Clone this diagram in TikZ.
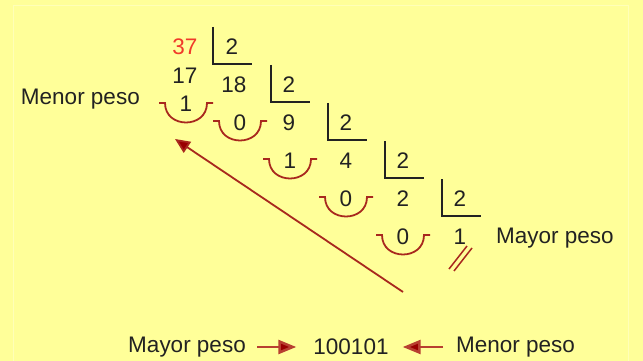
\documentclass[tikz,border=0pt]{standalone}
\usepackage{fontspec}
\setmainfont{Liberation Sans}
\usetikzlibrary{arrows.meta}
\definecolor{bg}{HTML}{FFFF99}
\definecolor{bgline}{HTML}{FFFFB8}
\definecolor{txt}{HTML}{222222}
\definecolor{cupred}{HTML}{A8281E}
\definecolor{numred}{HTML}{F03A2A}
\definecolor{arrline}{HTML}{B84030}
\definecolor{arrhead}{HTML}{990000}
\tikzset{
  num/.style={font=\fontsize{22.5}{22.5}\selectfont, text=txt, inner sep=0pt},
  lbl/.style={font=\fontsize{22.5}{22.5}\selectfont, text=txt, inner sep=0pt},
  bracket/.style={draw=txt, line width=1.6pt},
  cupline/.style={draw=cupred, line width=1.8pt},
  longarrow/.style={draw=cupred, line width=1.8pt, -{Triangle[length=15pt,width=13pt,fill=arrhead]}},
  bigarrow/.style={draw=arrline, line width=2.6pt, -{Triangle[length=18pt,width=14pt,fill=arrhead]}}
}
\newcommand{\cupat}[2]{% center x, top y
  \draw[cupline] (#1-27,#2) -- (#1-21,#2) .. controls (#1-21,#2+26) and (#1+21,#2+26) .. (#1+21,#2) -- (#1+27,#2);
}
\newcommand{\brackat}[2]{% x of vertical, center y of divisor
  \draw[bracket] (#1,#2-20) -- (#1,#2+17) -- (#1+39,#2+17);
}
\begin{document}
\begin{tikzpicture}[x=1pt,y=-1pt]
\useasboundingbox (0,0) rectangle (643,361);
\fill[bg] (0,0) rectangle (643,361);
\draw[bgline, line width=1pt] (13,361) -- (13,6) -- (628,6) -- (628,361);

% numbers
\node[num, text=numred] (n37) at (185,47) {37};
\node[num] (d1) at (232,47) {2};
\node[num] (n17) at (185,76) {17};
\node[num] (n18) at (234,85) {18};
\node[num] (d2) at (289,85) {2};
\node[num] (r1) at (186,104) {1};
\node[num] (r2) at (240,123) {0};
\node[num] (n9) at (289,123) {9};
\node[num] (d3) at (346,123) {2};
\node[num] (r3) at (290,161) {1};
\node[num] (n4) at (346,161) {4};
\node[num] (d4) at (403,161) {2};
\node[num] (r4) at (346,199) {0};
\node[num] (n2) at (403,199) {2};
\node[num] (d5) at (460,199) {2};
\node[num] (r5) at (403,237) {0};
\node[num] (q) at (460,237) {1};

% brackets
\brackat{213}{47}
\brackat{271}{85}
\brackat{328}{123}
\brackat{385}{161}
\brackat{442}{199}

% cups
\cupat{186}{103}
\cupat{240}{121}
\cupat{290}{159}
\cupat{346}{197}
\cupat{403}{235}

% double slash
\draw[cupline, line width=1.5pt] (449,269) -- (467,246);
\draw[cupline, line width=1.5pt] (454,271) -- (472,248);

% labels
\node[lbl, anchor=east] (menorL) at (140,99) {Menor peso};
\node[lbl, anchor=west] (mayorR) at (496,238) {Mayor peso};

% long arrow
\coordinate (la1) at (403,292);
\coordinate (la2) at (175,139);
\draw[longarrow] (la1) -- (la2);

% bottom line
\node[lbl, anchor=east] (mayorB) at (246,347) {Mayor peso};
\node[lbl] (bin) at (351,347) {100101};
\node[lbl, anchor=west] (menorB) at (456,347) {Menor peso};
\draw[bigarrow] ([xshift=11pt]mayorB.east) -- ([xshift=-17pt]bin.west);
\draw[bigarrow] ([xshift=-13pt]menorB.west) -- ([xshift=14pt]bin.east);
\end{tikzpicture}
\end{document}
